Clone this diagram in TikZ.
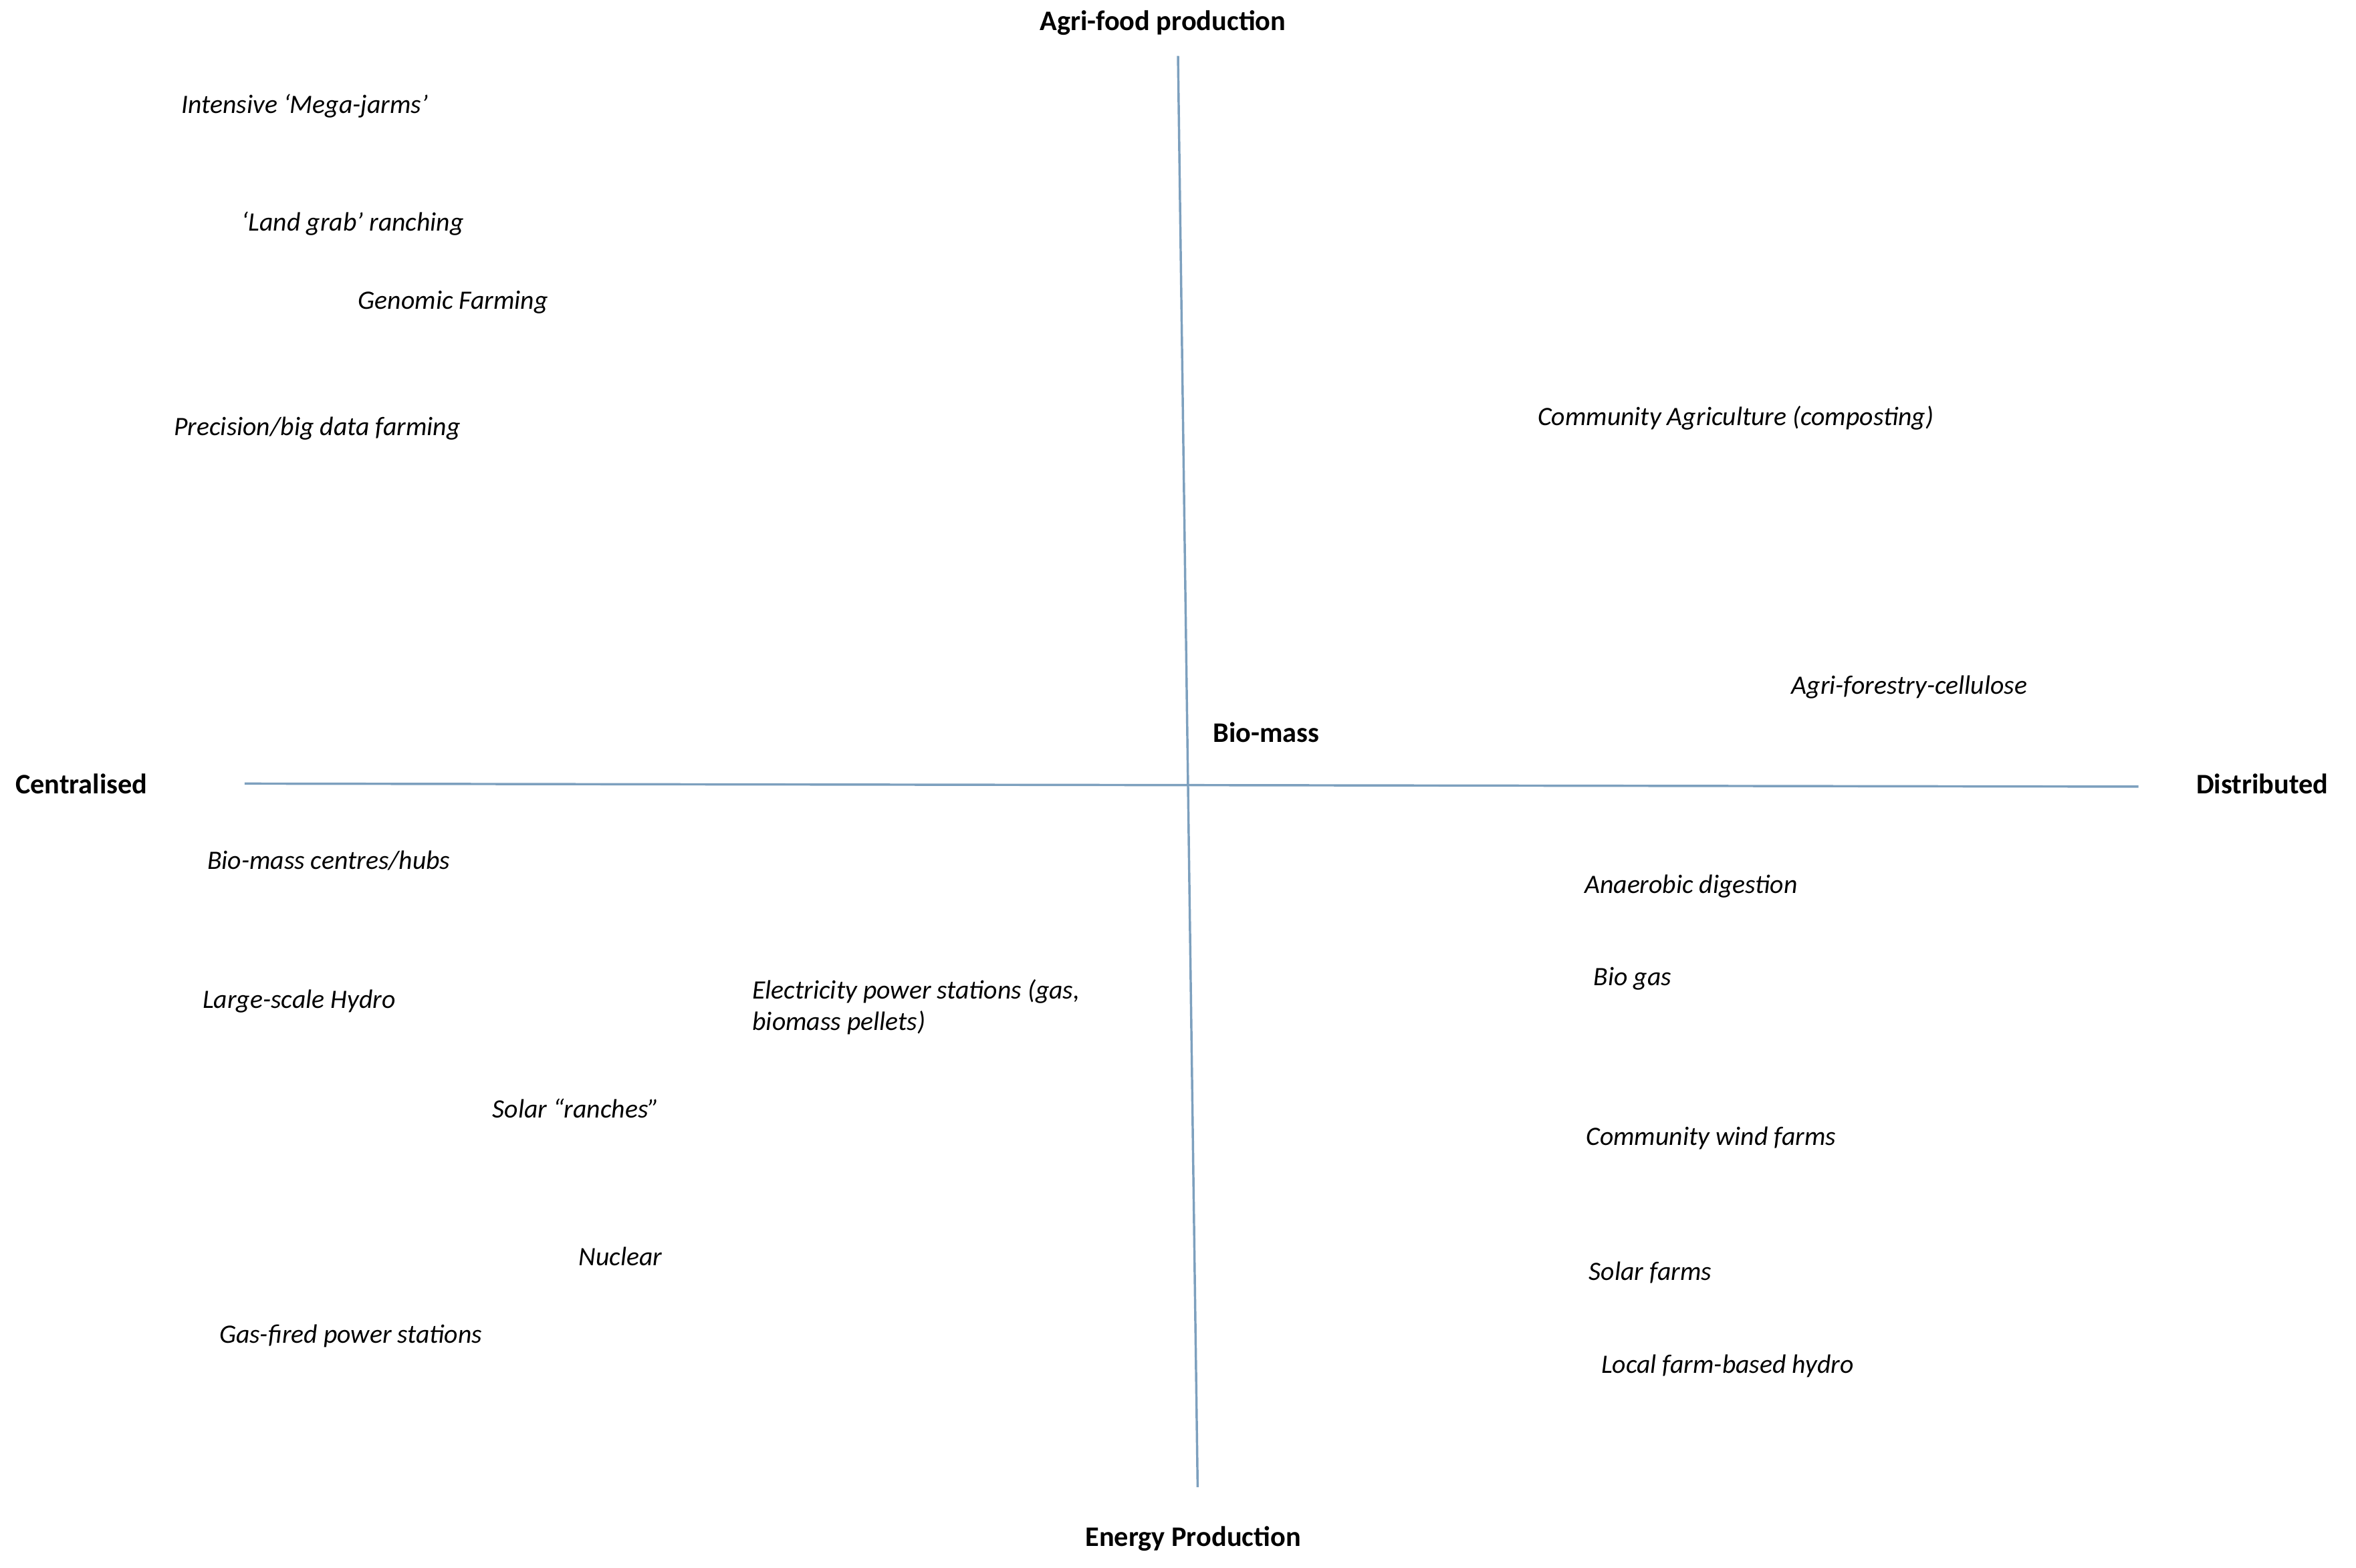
\documentclass[tikz,border=0pt]{standalone}
\usepackage{fontspec}
\setmainfont{Carlito}
\begin{document}
\begin{tikzpicture}[x=0.03cm,y=-0.03cm,
  lbl/.style={anchor=west,inner sep=0pt,font=\fontsize{15}{18}\selectfont\itshape},
  hd/.style={inner sep=0pt,font=\fontsize{16}{19}\selectfont\bfseries},
  ax/.style={draw={rgb,255:red,125;green,160;blue,190},line width=1.3pt}]
\useasboundingbox (0,0) rectangle (1560,1038.5);
\coordinate (t) at (780,37); \coordinate (b) at (793,985);
\coordinate (l) at (162,519); \coordinate (r) at (1416,521);
\draw[ax] (t) -- (b);
\draw[ax] (l) -- (r);
\node[hd] (n1) at (770,15) {Agri-food production};
\node[hd] (n2) at (790,1019) {Energy Production};
\node[hd,anchor=west] (n3) at (10,519) {Centralised};
\node[hd,anchor=west] (n4) at (1454,519) {Distributed};
\node[hd,anchor=west,font=\fontsize{16}{19}\selectfont\bfseries] (n5) at (803,485) {Bio-mass};
\node[lbl] (a1) at (120,70) {Intensive `Mega-jarms'};
\node[lbl] (a2) at (160,148) {`Land grab' ranching};
\node[lbl] (a3) at (237,200) {Genomic Farming};
\node[lbl] (a4) at (115,284) {Precision/big data farming};
\node[lbl] (a5) at (1018,277) {Community Agriculture (composting)};
\node[lbl] (a6) at (1186,455) {Agri-forestry-cellulose};
\node[lbl] (c1) at (137,570) {Bio-mass centres/hubs};
\node[lbl] (c2) at (134,663) {Large-scale Hydro};
\node[lbl,align=left] (c3) at (498,667) {Electricity power stations (gas,\\biomass pellets)};
\node[lbl] (c4) at (326,734) {Solar ``ranches''};
\node[lbl] (c5) at (383,832) {Nuclear};
\node[lbl] (c6) at (145,885) {Gas-fired power stations};
\node[lbl] (d1) at (1049,587) {Anaerobic digestion};
\node[lbl] (d2) at (1055,648) {Bio gas};
\node[lbl] (d3) at (1050,754) {Community wind farms};
\node[lbl] (d4) at (1052,843) {Solar farms};
\node[lbl] (d5) at (1060,905) {Local farm-based hydro};
\end{tikzpicture}
\end{document}
